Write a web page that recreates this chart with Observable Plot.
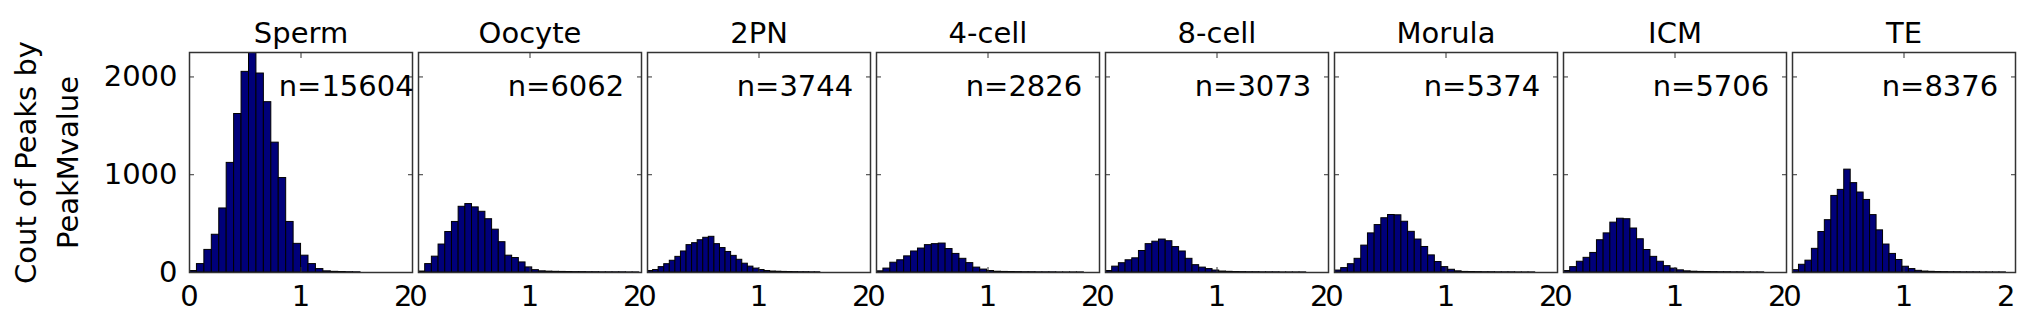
<!DOCTYPE html>
<html>
<head>
<meta charset="utf-8">
<script src="https://cdn.jsdelivr.net/npm/d3@7"></script>
<script src="https://cdn.jsdelivr.net/npm/@observablehq/plot@0.6"></script>
<style>
  html, body { margin: 0; padding: 0; background: #fff; }
</style>
</head>
<body>
<div id="chart"></div>
<script>
// ---- data ----
const stages = ["Sperm", "Oocyte", "2PN", "4-cell", "8-cell", "Morula", "ICM", "TE"];
const nPeaks = [15604, 6062, 3744, 2826, 3073, 5374, 5706, 8376];
const binWidths = [0.0667, 0.06, 0.05, 0.062, 0.06, 0.06, 0.06, 0.058];
const spermCounts  = [15, 86, 231, 386, 655, 1121, 1621, 2052, 2300, 2035, 1742, 1328, 966, 517, 293, 172, 86, 35, 12, 7, 5, 3, 2];
const oocyteCounts = [10, 86, 162, 286, 414, 517, 672, 700, 666, 621, 545, 438, 310, 172, 148, 103, 52, 24, 12, 9, 7, 6, 5, 4, 4, 3, 3, 2, 2, 2, 2, 1, 1];
const pn2Counts    = [15, 25, 55, 85, 120, 160, 215, 280, 300, 330, 355, 365, 290, 250, 210, 170, 130, 90, 60, 40, 25, 15, 10, 8, 6, 5, 4, 3, 3, 2, 2];
const cell4Counts  = [12, 40, 100, 125, 165, 215, 245, 280, 290, 296, 240, 190, 140, 96, 50, 30, 15, 8, 6, 5, 4, 3, 3, 2, 2, 2, 1, 1, 1, 1];
const cell8Counts  = [15, 60, 95, 125, 145, 220, 290, 315, 337, 320, 260, 215, 140, 75, 50, 35, 20, 10, 7, 5, 4, 3, 3, 2, 2, 2, 1, 1, 1, 1];
const morulaCounts = [20, 45, 85, 140, 275, 400, 485, 555, 588, 585, 519, 416, 337, 261, 175, 107, 55, 28, 12, 6, 5, 4, 3, 3, 2, 2, 2, 1, 1, 1];
const icmCounts    = [15, 55, 110, 150, 200, 330, 400, 510, 550, 545, 450, 340, 230, 160, 110, 65, 40, 22, 12, 8, 6, 5, 4, 3, 3, 2, 2, 1, 1, 1];
const teCounts     = [24, 79, 121, 242, 414, 535, 783, 845, 1052, 914, 818, 742, 587, 431, 286, 190, 128, 59, 35, 17, 10, 7, 5, 4, 3, 3, 2, 2, 2, 1, 1, 1, 1];
const yTicks = [0, 1000, 2000];
const xTicks = [0, 1, 2];
const yLabelLines = ["Cout of Peaks by", "PeakMvalue"];

const countsByStage = [spermCounts, oocyteCounts, pn2Counts, cell4Counts, cell8Counts, morulaCounts, icmCounts, teCounts];

// table for the library
const rows = [];
stages.forEach((s, k) => {
  const w = binWidths[k];
  countsByStage[k].forEach((c, i) => rows.push({stage: s, x1: i * w, x2: (i + 1) * w, count: c}));
});
const nRows = stages.map((s, k) => ({stage: s, label: `n=${nPeaks[k]}`}));

const font = "DejaVu Sans, Liberation Sans, Arial, sans-serif";
const fmt = d => String(d);

const chart = Plot.plot({
  width: 2032,
  height: 319,
  marginLeft: 188,
  marginRight: 16,
  marginTop: 52,
  marginBottom: 47,
  style: {fontFamily: font, fontSize: "29px", background: "#fff", color: "#000", overflow: "visible"},
  fx: {domain: stages, paddingInner: 0.027, paddingOuter: 0, label: null, axis: null},
  x: {domain: [0, 2], axis: null},
  y: {domain: [0, 2250], axis: null},
  marks: [
    Plot.rectY(rows, {fx: "stage", x1: "x1", x2: "x2", y: "count", fill: "#00007a", stroke: "#000", strokeWidth: 1, clip: true}),
    Plot.frame({stroke: "#333", strokeWidth: 1.5}),
    // facet titles
    Plot.axisFx({anchor: "top", label: null, tickSize: 0, tickPadding: 10, fontSize: 29}),
    // y tick labels on first panel
    Plot.axisY({ticks: yTicks, anchor: "left", tickSize: 0, tickPadding: 12, fontSize: 29, tickFormat: fmt, label: null}),
    // inward ticks on all four sides
    Plot.axisY({ticks: yTicks, anchor: "left", text: null, label: null, tickSize: 5, insetLeft: 5, facetAnchor: null, stroke: "#333"}),
    Plot.axisY({ticks: yTicks, anchor: "right", text: null, label: null, tickSize: 5, insetRight: 5, facetAnchor: null, stroke: "#333"}),
    Plot.axisX({ticks: xTicks, anchor: "bottom", text: null, label: null, tickSize: 5, insetBottom: 5, facetAnchor: null, stroke: "#333"}),
    Plot.axisX({ticks: xTicks, anchor: "top", text: null, label: null, tickSize: 5, insetTop: 5, facetAnchor: null, stroke: "#333"}),
    // x tick labels
    Plot.axisX({ticks: xTicks.slice(0, 2), anchor: "bottom", tickSize: 0, tickPadding: 13, label: null, fontSize: 29, facetAnchor: null, tickFormat: fmt}),
    Plot.axisX({ticks: xTicks.slice(2), anchor: "bottom", tickSize: 0, tickPadding: 13, label: null, fontSize: 29, facetAnchor: null, tickFormat: fmt, textAnchor: "end"}),
    // n= labels
    Plot.text(nRows, {fx: "stage", x: () => 0.8, y: () => 1900, text: "label", textAnchor: "start", fontSize: 29, fill: "#000"}),
    // y-axis title, two rotated lines
    Plot.text([yLabelLines[0]], {fx: () => stages[0], frameAnchor: "left", dx: -163, rotate: -90, text: d => d, textAnchor: "middle", lineAnchor: "middle", fontSize: 29, fill: "#000"}),
    Plot.text([yLabelLines[1]], {fx: () => stages[0], frameAnchor: "left", dx: -121, rotate: -90, text: d => d, textAnchor: "middle", lineAnchor: "middle", fontSize: 29, fill: "#000"})
  ]
});
document.getElementById("chart").appendChild(chart);
</script>
</body>
</html>
